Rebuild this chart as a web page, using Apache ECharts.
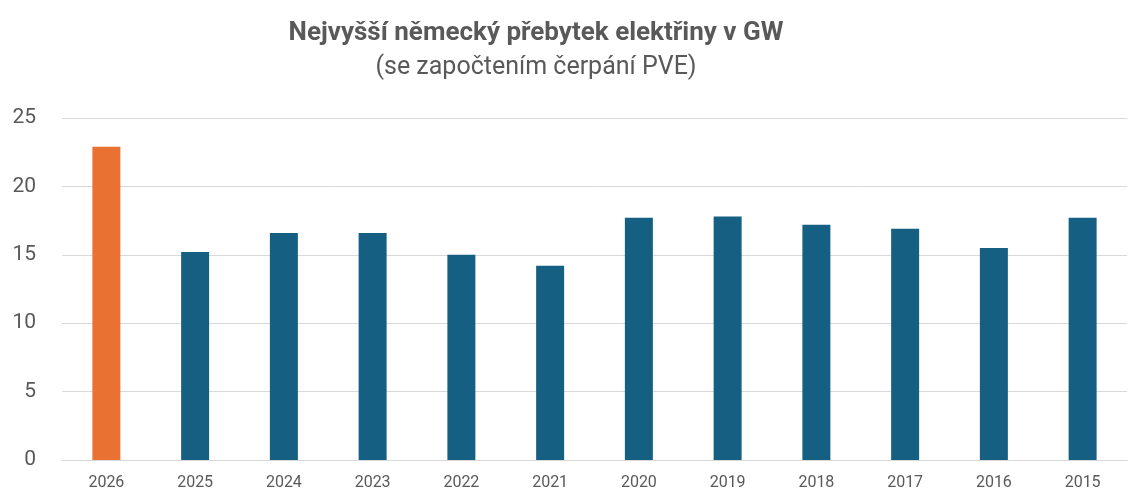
<!DOCTYPE html>
<html>
<head>
<meta charset="utf-8">
<script src="https://cdn.jsdelivr.net/npm/echarts@6/dist/echarts.min.js"></script>
<style>
html, body { margin: 0; padding: 0; background: #fff; }
#container { width: 1138px; height: 502px; }
</style>
</head>
<body>
<div id="container"></div>
<script>
var years = ['2026', '2025', '2024', '2023', '2022', '2021', '2020', '2019', '2018', '2017', '2016', '2015'];
var surplusGW = [22.9, 15.2, 16.6, 16.6, 15.0, 14.2, 17.7, 17.8, 17.2, 16.9, 15.5, 17.7];
var highlightYear = '2026';

var dom = document.getElementById('container');
var myChart = echarts.init(dom);

var barData = surplusGW.map(function (v, i) {
    return {
        value: v,
        itemStyle: { color: years[i] === highlightYear ? '#E97132' : '#156082' }
    };
});

var option = {
    backgroundColor: '#ffffff',
    animation: false,
    title: {
        text: 'Nejvyšší německý přebytek elektřiny v GW',
        subtext: '(se započtením čerpání PVE)',
        left: 531,
        textAlign: 'center',
        top: 15,
        itemGap: 9,
        textStyle: {
            color: '#595959',
            fontFamily: 'Roboto, sans-serif',
            fontWeight: 'bold',
            fontSize: 26
        },
        subtextStyle: {
            color: '#595959',
            fontFamily: 'Roboto, sans-serif',
            fontSize: 25
        }
    },
    grid: {
        left: 62,
        right: 11,
        top: 118,
        bottom: 42
    },
    xAxis: {
        type: 'category',
        data: years,
        axisTick: { show: false },
        axisLine: { lineStyle: { color: '#d9d9d9', width: 1 } },
        axisLabel: {
            color: '#595959',
            fontSize: 16,
            fontFamily: 'Roboto, sans-serif',
            margin: 15
        }
    },
    yAxis: {
        type: 'value',
        min: 0,
        max: 25,
        interval: 5,
        axisLine: { show: false },
        axisTick: { show: false },
        splitLine: { lineStyle: { color: '#d9d9d9', width: 1 } },
        axisLabel: {
            color: '#595959',
            fontSize: 21,
            fontFamily: 'Roboto, sans-serif',
            margin: 26
        }
    },
    series: [
        {
            type: 'bar',
            data: barData,
            barWidth: 28
        }
    ]
};
myChart.setOption(option, true);
</script>
</body>
</html>
